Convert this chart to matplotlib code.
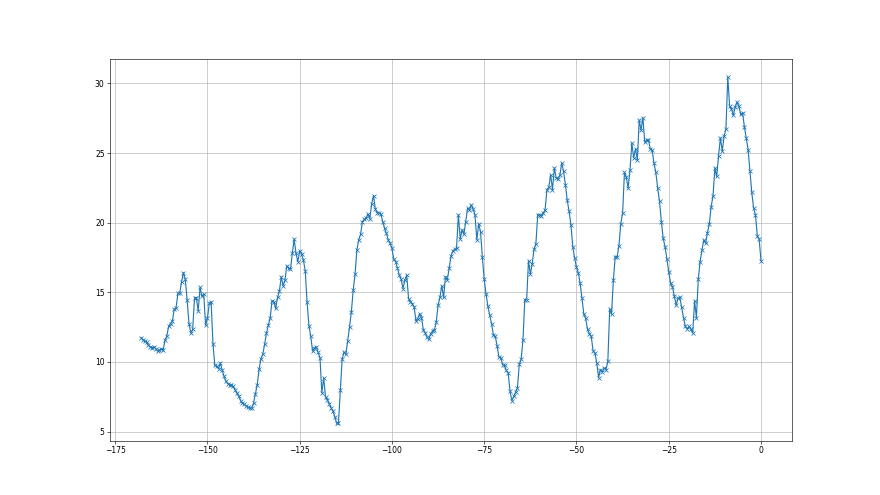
import matplotlib
matplotlib.use("Agg")
import matplotlib.pyplot as plt
import numpy as np

# half-hourly readings, last 168 hours (hour offset relative to now)
hours = np.arange(-168, 0.5, 0.5)

# values per hour block: [h, h+0.5]
temps = [
    11.75, 11.6, 11.48, 11.45, 11.2, 11.08, 11.03, 11.08, 10.96, 10.79,   # -168 .. -163.5
    10.84, 10.96, 10.84, 11.56, 11.87, 12.56, 12.76, 12.93, 13.77, 13.89,  # -163 .. -158.5
    14.92, 14.97, 15.76, 16.41, 15.93, 14.44, 12.76, 12.08, 12.33, 14.56,  # -158 .. -153.5
    14.6, 13.67, 15.35, 14.73, 14.87, 12.64, 13.12, 14.2, 14.32, 11.32,    # -153 .. -148.5
    9.76, 9.68, 9.51, 9.92, 9.42, 8.96, 8.62, 8.45, 8.36, 8.31,            # -148 .. -143.5
    8.24, 8.0, 7.74, 7.54, 7.23, 7.04, 6.97, 6.85, 6.73, 6.7,              # -143 .. -138.5
    6.7, 7.04, 7.71, 8.38, 9.47, 10.23, 10.55, 11.27, 12.06, 12.64,        # -138 .. -133.5
    13.14, 14.39, 14.32, 13.84, 14.63, 15.08, 16.12, 15.47, 15.85, 16.91,  # -133 .. -128.5
    16.72, 16.64, 17.8, 18.81, 17.8, 17.2, 17.96, 17.75, 17.32, 16.55,     # -128 .. -123.5
    14.31, 12.61, 11.84, 10.78, 11.0, 11.07, 10.69, 10.3, 7.78, 8.86,      # -123 .. -118.5
    7.47, 7.3, 6.99, 6.7, 6.46, 6.08, 5.6, 5.6, 7.95, 10.18,               # -118 .. -113.5
    10.71, 10.54, 11.48, 12.5, 13.59, 15.15, 16.28, 18.04, 18.76, 19.17,   # -113 .. -108.5
    20.08, 20.25, 20.32, 20.63, 20.27, 21.35, 21.95, 20.97, 20.73, 20.68,  # -108 .. -103.5
    20.61, 20.08, 19.6, 19.24, 18.76, 18.52, 18.16, 17.36, 17.2, 16.72,    # -103 .. -98.5
    16.24, 15.92, 15.27, 15.88, 16.24, 14.55, 14.31, 14.19, 13.95, 12.95,  # -98 .. -93.5
    13.11, 13.47, 13.19, 12.32, 12.1, 11.79, 11.62, 12.03, 12.23, 12.27,   # -93 .. -88.5
    12.87, 14.07, 14.63, 15.47, 14.63, 16.12, 15.88, 16.72, 17.6, 17.99,   # -88 .. -83.5
    18.08, 18.16, 20.56, 18.81, 19.48, 19.17, 20.08, 21.04, 20.92, 21.28,  # -83 .. -78.5
    20.99, 20.56, 18.76, 19.91, 19.36, 17.51, 15.92, 14.87, 14.0, 13.35,   # -78 .. -73.5
    12.75, 11.91, 11.84, 11.14, 10.35, 10.3, 9.8, 9.75, 9.39, 9.2,         # -73 .. -68.5
    7.88, 7.23, 7.52, 7.83, 8.14, 9.82, 10.18, 11.55, 14.48, 14.48,        # -68 .. -63.5
    17.27, 16.31, 17.04, 18.09, 18.48, 20.57, 20.57, 20.5, 20.69, 20.93,   # -63 .. -58.5
    22.37, 22.54, 23.45, 22.37, 23.93, 23.21, 23.14, 23.4, 24.29, 23.69,   # -58 .. -53.5
    22.73, 21.6, 20.81, 19.85, 18.28, 17.44, 16.8, 16.41, 15.64, 14.56,    # -53 .. -48.5
    13.43, 13.12, 12.33, 12.04, 11.85, 10.79, 10.65, 9.93, 8.87, 9.45,     # -48 .. -43.5
    9.26, 9.57, 9.45, 10.05, 13.77, 13.43, 15.88, 17.56, 17.51, 18.33,     # -43 .. -38.5
    19.92, 20.68, 23.61, 23.28, 22.49, 23.76, 25.73, 24.65, 25.3, 24.53,   # -38 .. -33.5
    27.36, 26.64, 27.53, 25.78, 25.92, 25.97, 25.3, 25.2, 24.29, 23.61,    # -33 .. -28.5
    22.49, 21.53, 20.08, 18.88, 18.28, 17.37, 16.48, 15.64, 15.4, 14.73,   # -28 .. -23.5
    14.08, 14.56, 14.63, 13.91, 13.19, 12.55, 12.37, 12.55, 12.33, 12.08,  # -23 .. -18.5
    14.39, 13.19, 15.93, 17.2, 18.04, 18.76, 18.52, 19.29, 19.92, 21.16,   # -18 .. -13.5
    21.93, 23.92, 23.32, 24.81, 26.09, 25.13, 26.21, 26.74, 30.48, 28.37,  # -13 .. -8.5
    28.18, 27.7, 28.32, 28.66, 28.37, 27.77, 27.89, 26.88, 26.09, 25.25,   # -8 .. -3.5
    23.68, 22.17, 21.04, 20.56, 19.05, 18.81, 17.27,                       # -3 .. 0
]

print(len(hours), len(temps))

fig = plt.figure(figsize=(16, 9))
ax = fig.add_subplot(111)
ax.plot(hours, temps, marker="x")
ax.grid(True)

fig.savefig("out.png", dpi=55)
